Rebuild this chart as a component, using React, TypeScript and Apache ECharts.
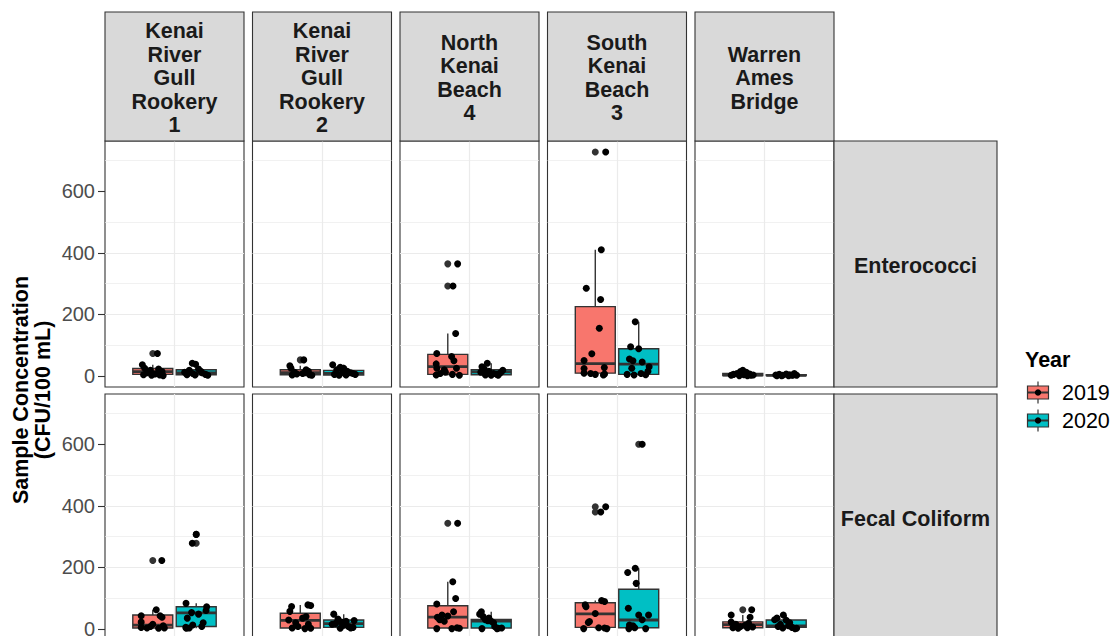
import React, { useEffect, useRef } from "react";
import * as echarts from "echarts";

// ---------- data ----------
const sites = [
  "Kenai\nRiver\nGull\nRookery\n1",
  "Kenai\nRiver\nGull\nRookery\n2",
  "North\nKenai\nBeach\n4",
  "South\nKenai\nBeach\n3",
  "Warren\nAmes\nBridge",
];
const parameters = ["Enterococci", "Fecal Coliform"];
const years = ["2019", "2020"];
const yearColors = ["#F8766D", "#00BFC4"];
const yTicks = [0, 200, 400, 600];
const Y_MIN = -36;
const Y_MAX = 763;

// box stats per site: [lower whisker, Q1, median, Q3, upper whisker]
const enteroBox2019 = [
  [1, 5, 14, 24, 36],
  [2, 4, 11, 20, 33],
  [1, 5, 30, 70, 138],
  [3, 9, 40, 225, 410],
  [0, 1, 3, 8, 18],
];
const enteroBox2020 = [
  [1, 4, 10, 20, 41],
  [1, 3, 8, 18, 36],
  [1, 4, 13, 20, 41],
  [2, 5, 38, 88, 176],
  [0, 1, 2, 4, 8],
];
const fecalBox2019 = [
  [2, 3, 12, 45, 62],
  [1, 3, 28, 51, 78],
  [1, 3, 38, 75, 153],
  [1, 5, 49, 85, 92],
  [2, 4, 14, 23, 45],
];
const fecalBox2020 = [
  [2, 8, 52, 72, 83],
  [1, 5, 17, 29, 48],
  [1, 3, 25, 31, 56],
  [1, 4, 29, 129, 197],
  [1, 5, 10, 29, 45],
];

// boxplot outliers per site
const enteroOut2019 = [[73], [52], [364, 292], [727], []];
const enteroOut2020 = [[], [], [], [], []];
const fecalOut2019 = [[222], [], [343], [397, 380], [62]];
const fecalOut2020 = [[307, 278], [], [], [600], []];

// jittered samples per site: [horizontal jitter, value]
const enteroPts2019 = [
  [[0.04, 73], [-0.09, 36], [-0.07, 25], [-0.02, 18], [0.05, 22], [0.08, 14], [-0.05, 10], [0.02, 6], [-0.08, 4], [0.06, 3], [-0.01, 2], [0.09, 1]],
  [[0.03, 52], [-0.09, 33], [-0.08, 25], [-0.05, 12], [-0.03, 6], [-0.07, 3], [0.02, 8], [0.05, 20], [0.07, 15], [0.08, 4], [0.1, 2], [0.04, 10]],
  [[0.085, 364], [0.045, 292], [0.068, 138], [-0.095, 73], [0.033, 63], [0.053, 49], [-0.1, 39], [-0.095, 25], [-0.03, 20], [0.075, 25], [-0.1, 3], [0.1, 2], [-0.065, 8], [0.04, 5], [-0.02, 12]],
  [[0.09, 727], [0.052, 410], [-0.078, 285], [0.046, 248], [0.035, 155], [-0.03, 72], [-0.097, 50], [0.078, 27], [-0.097, 24], [-0.097, 9], [-0.04, 8], [0.08, 6], [0.07, 3], [0.0, 5]],
  [[-0.08, 5], [-0.05, 8], [-0.02, 14], [0.0, 18], [0.03, 12], [0.06, 6], [0.09, 3], [-0.1, 2], [0.04, 1], [-0.03, 1], [0.07, 2], [0.01, 4]],
];
const enteroPts2020 = [
  [[-0.034, 41], [-0.005, 38], [-0.1, 12], [-0.06, 18], [-0.03, 8], [-0.01, 3], [0.02, 22], [0.05, 10], [0.08, 5], [0.1, 2], [-0.08, 4], [0.04, 15]],
  [[-0.095, 36], [-0.06, 20], [-0.03, 28], [0.0, 25], [0.03, 15], [0.06, 10], [0.1, 5], [-0.08, 5], [-0.04, 2], [0.02, 3], [0.08, 8], [-0.01, 12]],
  [[-0.034, 41], [-0.08, 30], [-0.06, 22], [-0.09, 12], [-0.02, 15], [0.02, 8], [0.05, 5], [0.08, 10], [0.1, 18], [-0.05, 3], [0.0, 2], [0.06, 2]],
  [[-0.03, 176], [-0.07, 95], [0.0, 88], [-0.08, 55], [-0.05, 49], [0.03, 45], [0.09, 30], [-0.1, 5], [-0.04, 3], [0.06, 4], [0.08, 15], [-0.06, 25], [0.02, 8]],
  [[-0.09, 3], [-0.06, 5], [-0.03, 2], [0.0, 6], [0.03, 4], [0.06, 3], [0.09, 2], [-0.04, 1], [0.02, 1], [0.07, 8], [-0.08, 1], [0.05, 2]],
];
const fecalPts2019 = [
  [[0.078, 222], [-0.1, 43], [0.03, 62], [0.063, 43], [0.08, 38], [-0.1, 22], [-0.1, 5], [-0.05, 3], [0.05, 2], [0.09, 10], [0.1, 3], [-0.02, 8], [0.0, 15]],
  [[-0.075, 73], [0.066, 78], [0.09, 76], [-0.09, 57], [-0.1, 29], [0.05, 40], [-0.07, 3], [0.04, 1], [0.09, 2], [-0.04, 20], [0.02, 35], [0.07, 15], [-0.02, 8]],
  [[0.085, 343], [0.043, 153], [0.068, 99], [-0.095, 81], [0.05, 56], [-0.05, 45], [-0.09, 38], [-0.07, 30], [-0.095, 1], [0.035, 1], [0.08, 4], [0.1, 2], [0.0, 42], [-0.03, 25]],
  [[0.09, 397], [0.047, 380], [-0.087, 78], [-0.08, 72], [0.055, 92], [0.08, 89], [-0.05, 24], [-0.06, 21], [-0.1, 1], [0.03, 4], [0.08, 3], [0.1, 1], [0.0, 50]],
  [[0.077, 62], [-0.1, 45], [0.063, 38], [-0.1, 22], [-0.085, 4], [-0.04, 2], [0.04, 4], [0.085, 6], [0.02, 12], [-0.06, 15], [0.05, 18], [-0.02, 8]],
];
const fecalPts2020 = [
  [[0.0, 307], [-0.034, 278], [-0.088, 83], [-0.04, 53], [0.085, 60], [-0.077, 35], [-0.03, 13], [0.048, 8], [-0.09, 5], [-0.085, 2], [0.09, 72], [0.02, 48], [0.06, 20], [-0.06, 3]],
  [[-0.086, 48], [0.09, 27], [-0.05, 32], [-0.02, 22], [-0.07, 18], [0.0, 12], [0.04, 8], [0.06, 3], [-0.03, 2], [0.08, 5], [-0.1, 15], [0.02, 25]],
  [[-0.085, 56], [-0.1, 48], [-0.07, 40], [-0.05, 30], [-0.03, 27], [0.0, 25], [0.03, 8], [0.06, 2], [0.09, 3], [-0.08, 1], [0.05, 1], [0.02, 20], [-0.02, 35]],
  [[0.03, 600], [-0.03, 197], [-0.095, 183], [-0.022, 148], [-0.09, 67], [0.0, 45], [0.085, 45], [-0.08, 13], [-0.05, 10], [-0.085, 1], [-0.035, 4], [0.06, 1], [0.03, 30]],
  [[-0.025, 45], [-0.08, 35], [-0.1, 30], [0.0, 28], [-0.05, 15], [0.076, 1], [0.05, 5], [0.02, 10], [-0.03, 3], [0.09, 2], [0.03, 20], [-0.07, 8]],
];

const boxes = [
  [enteroBox2019, enteroBox2020],
  [fecalBox2019, fecalBox2020],
];
const outliers = [
  [enteroOut2019, enteroOut2020],
  [fecalOut2019, fecalOut2020],
];
const points = [
  [enteroPts2019, enteroPts2020],
  [fecalPts2019, fecalPts2020],
];

// ---------- layout ----------
const FONT = "'Liberation Sans', Arial, Helvetica, sans-serif";
const PANEL_LEFT = [105, 252.5, 400, 547.5, 695];
const PANEL_W = 139;
const ROW_TOP = [141, 394];
const PANEL_H = 246;
const STRIP_TOP = 12;
const STRIP_RIGHT_W = 163;
const YEAR_X = [0.4125, 0.7875];
const BOX_HALF = 0.1725;
const DARK = "#333333";

function renderBox(params: any, api: any) {
  const x = api.value(0);
  const lo = api.value(1);
  const q1 = api.value(2);
  const med = api.value(3);
  const q3 = api.value(4);
  const hi = api.value(5);
  const ci = api.value(6);
  const c = api.coord([x, med]);
  const pLo = api.coord([x, lo]);
  const pHi = api.coord([x, hi]);
  const tl = api.coord([x - BOX_HALF, q3]);
  const br = api.coord([x + BOX_HALF, q1]);
  const lw = 1.4;
  return {
    type: "group",
    children: [
      { type: "line", shape: { x1: c[0], y1: pHi[1], x2: c[0], y2: tl[1] }, style: { stroke: DARK, lineWidth: lw } },
      { type: "line", shape: { x1: c[0], y1: br[1], x2: c[0], y2: pLo[1] }, style: { stroke: DARK, lineWidth: lw } },
      {
        type: "rect",
        shape: { x: tl[0], y: tl[1], width: br[0] - tl[0], height: Math.max(br[1] - tl[1], 0.5) },
        style: { fill: yearColors[ci], stroke: DARK, lineWidth: lw },
      },
      { type: "line", shape: { x1: tl[0], y1: c[1], x2: br[0], y2: c[1] }, style: { stroke: DARK, lineWidth: 2.8 } },
    ],
  };
}

function buildOption() {
  const grid: any[] = [];
  const xAxis: any[] = [];
  const yAxis: any[] = [];
  const series: any[] = [];
  const graphic: any[] = [];

  parameters.forEach((param, r) => {
    sites.forEach((site, c) => {
      const gi = r * sites.length + c;
      grid.push({
        left: PANEL_LEFT[c],
        top: ROW_TOP[r],
        width: PANEL_W,
        height: PANEL_H,
        show: true,
        backgroundColor: "#ffffff",
        borderColor: DARK,
        borderWidth: 1.1,
        containLabel: false,
        outerBoundsMode: "none",
      });
      xAxis.push({
        type: "value",
        gridIndex: gi,
        min: 0,
        max: 1.2,
        interval: 0.6,
        axisLine: { show: false },
        axisTick: { show: false },
        axisLabel: { show: false },
        splitLine: { show: true, showMinLine: false, showMaxLine: false, lineStyle: { color: "#EBEBEB", width: 1.2 } },
      });
      yAxis.push({
        type: "value",
        gridIndex: gi,
        min: Y_MIN,
        max: Y_MAX,
        splitNumber: 4,
        axisLine: { show: false },
        axisTick: { show: c === 0, length: 7, customValues: yTicks, lineStyle: { color: DARK, width: 1.1 } },
        axisLabel: {
          show: c === 0,
          customValues: yTicks,
          color: "#4D4D4D",
          fontSize: 20,
          fontFamily: FONT,
          margin: 10,
        },
        splitLine: { show: true, showMinLine: false, showMaxLine: false, lineStyle: { color: "#EBEBEB", width: 1.2 } },
        minorTick: { show: false, splitNumber: 2 },
        minorSplitLine: { show: true, lineStyle: { color: "#EBEBEB", width: 0.7 } },
      });

      const boxData = years.map((y, yi) => [YEAR_X[yi], ...boxes[r][yi][c], yi]);
      series.push({
        type: "custom",
        name: `${param} ${site} box`,
        xAxisIndex: gi,
        yAxisIndex: gi,
        renderItem: renderBox,
        data: boxData,
        encode: { x: 0, y: [1, 2, 3, 4, 5] },
        silent: true,
        z: 2,
      });
      const outData: number[][] = [];
      years.forEach((y, yi) => outliers[r][yi][c].forEach((v) => outData.push([YEAR_X[yi], v])));
      series.push({
        type: "scatter",
        xAxisIndex: gi,
        yAxisIndex: gi,
        data: outData,
        symbolSize: 7,
        itemStyle: { color: DARK, opacity: 1 },
        silent: true,
        z: 3,
      });
      const ptData: number[][] = [];
      years.forEach((y, yi) => points[r][yi][c].forEach((p) => ptData.push([YEAR_X[yi] + p[0], p[1]])));
      series.push({
        type: "scatter",
        xAxisIndex: gi,
        yAxisIndex: gi,
        data: ptData,
        symbolSize: 7,
        itemStyle: { color: "#000000", opacity: 1 },
        silent: true,
        z: 4,
      });
    });
  });

  // top strips
  sites.forEach((site, c) => {
    graphic.push({
      type: "rect",
      shape: { x: PANEL_LEFT[c], y: STRIP_TOP, width: PANEL_W, height: ROW_TOP[0] - STRIP_TOP },
      style: { fill: "#D9D9D9", stroke: DARK, lineWidth: 1.1 },
      z: 10,
    });
    graphic.push({
      type: "text",
      x: PANEL_LEFT[c] + PANEL_W / 2,
      y: (STRIP_TOP + ROW_TOP[0]) / 2 + 1.5,
      style: {
        text: site,
        fill: "#1A1A1A",
        font: `bold 21.5px ${FONT}`,
        align: "center",
        verticalAlign: "middle",
        textAlign: "center",
        textVerticalAlign: "middle",
        lineHeight: 23.5,
      },
      z: 11,
    });
  });
  // right strips
  const stripX = PANEL_LEFT[4] + PANEL_W;
  parameters.forEach((param, r) => {
    graphic.push({
      type: "rect",
      shape: { x: stripX, y: ROW_TOP[r], width: STRIP_RIGHT_W, height: PANEL_H },
      style: { fill: "#D9D9D9", stroke: DARK, lineWidth: 1.1 },
      z: 10,
    });
    graphic.push({
      type: "text",
      x: stripX + STRIP_RIGHT_W / 2,
      y: ROW_TOP[r] + 125,
      style: {
        text: param,
        fill: "#1A1A1A",
        font: `bold 21.5px ${FONT}`,
        align: "center",
        verticalAlign: "middle",
        textAlign: "center",
        textVerticalAlign: "middle",
      },
      z: 11,
    });
  });

  // y axis title
  graphic.push({
    type: "text",
    x: 32,
    y: 390,
    rotation: Math.PI / 2,
    style: {
      text: "Sample Concentration\n(CFU/100 mL)",
      fill: "#000000",
      font: `bold 21.5px ${FONT}`,
      align: "center",
      verticalAlign: "middle",
      textAlign: "center",
      textVerticalAlign: "middle",
      lineHeight: 22,
    },
    z: 11,
  });

  // legend
  graphic.push({
    type: "text",
    x: 1025,
    y: 360,
    style: {
      text: "Year",
      fill: "#000000",
      font: `bold 21.5px ${FONT}`,
      align: "left",
      verticalAlign: "middle",
      textAlign: "left",
      textVerticalAlign: "middle",
    },
    z: 11,
  });
  const keyY = [392.5, 420.5];
  years.forEach((y, yi) => {
    const cy = keyY[yi];
    const kx = 1038;
    graphic.push({
      type: "line",
      shape: { x1: kx, y1: cy - 11, x2: kx, y2: cy + 11 },
      style: { stroke: DARK, lineWidth: 1.2 },
      z: 11,
    });
    graphic.push({
      type: "rect",
      shape: { x: kx - 10.5, y: cy - 6.5, width: 21, height: 13 },
      style: { fill: yearColors[yi], stroke: DARK, lineWidth: 1.2 },
      z: 12,
    });
    graphic.push({
      type: "line",
      shape: { x1: kx - 10.5, y1: cy, x2: kx + 10.5, y2: cy },
      style: { stroke: DARK, lineWidth: 2 },
      z: 13,
    });
    graphic.push({
      type: "circle",
      shape: { cx: kx, cy: cy, r: 3.2 },
      style: { fill: "#000000" },
      z: 14,
    });
    graphic.push({
      type: "text",
      x: 1062,
      y: cy,
      style: {
        text: y,
        fill: "#000000",
        font: `21.5px ${FONT}`,
        align: "left",
        verticalAlign: "middle",
        textAlign: "left",
        textVerticalAlign: "middle",
      },
      z: 11,
    });
  });

  return {
    animation: false,
    backgroundColor: "#ffffff",
    grid,
    xAxis,
    yAxis,
    series,
    graphic,
  };
}

export default function App() {
  const ref = useRef<HTMLDivElement>(null);
  useEffect(() => {
    if (!ref.current) return;
    const chart = echarts.init(ref.current, null, { renderer: "svg" });
    chart.setOption(buildOption() as any);
    return () => chart.dispose();
  }, []);
  return (
    <div
      style={{
        position: "fixed",
        left: 0,
        top: 0,
        width: 1111,
        height: 636,
        overflow: "hidden",
        background: "#ffffff",
      }}
    >
      <div ref={ref} style={{ width: 1111, height: 646 }} />
    </div>
  );
}
